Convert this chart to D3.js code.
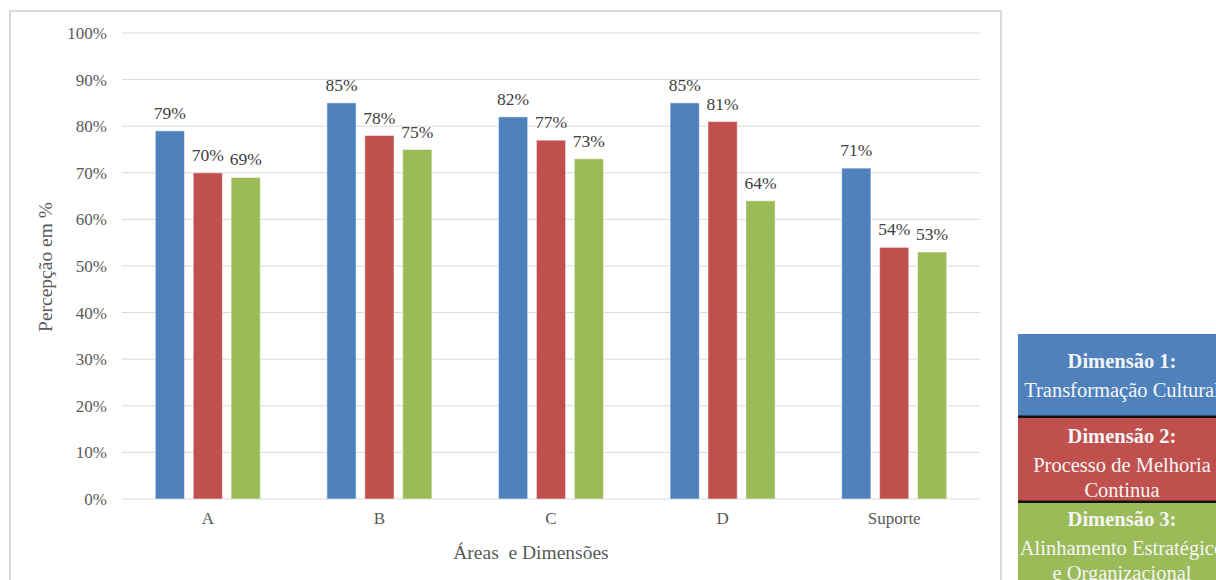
<!DOCTYPE html>
<html>
<head>
<meta charset="utf-8">
<script src="https://cdn.jsdelivr.net/npm/d3@7"></script>
<style>
  html, body { margin: 0; padding: 0; background: #fff; overflow: hidden; }
  svg { display: block; }
  svg text { font-family: "Liberation Serif", "Times New Roman", serif; }
</style>
</head>
<body>
<svg id="chart" width="1216" height="580"></svg>
<script>
// Categories (areas) and the three dimensions
const categories = ["A", "B", "C", "D", "Suporte"];
const seriesNames = ["Dimensão 1", "Dimensão 2", "Dimensão 3"];
const dim1 = [79, 85, 82, 85, 71];
const dim2 = [70, 78, 77, 81, 54];
const dim3 = [69, 75, 73, 64, 53];
const yTicks = [0, 10, 20, 30, 40, 50, 60, 70, 80, 90, 100];
const colors = ["#4F81BD", "#C0504D", "#9BBB59"];

// Legend blocks: bold heading + description lines
const legendHeads = ["Dimensão 1:", "Dimensão 2:", "Dimensão 3:"];
const legendLines = [
  ["Transformação Cultural"],
  ["Processo de Melhoria", "Continua"],
  ["Alinhamento Estratégico", "e Organizacional"]
];

const SERIF = "'Liberation Serif', 'Times New Roman', serif";
const seriesValues = [dim1, dim2, dim3];
const svg = d3.select("#chart");

// Chart frame
svg.append("rect")
  .attr("x", 10).attr("y", 11)
  .attr("width", 991).attr("height", 600)
  .attr("fill", "#fff")
  .attr("stroke", "#d9d9d9").attr("stroke-width", 2);

const plot = { left: 122, right: 980, top: 33, bottom: 499 };

const y = d3.scaleLinear().domain([0, 100]).range([plot.bottom, plot.top]);
const x0 = d3.scaleBand().domain(categories).range([plot.left, plot.right]);
const groupWidth = 105;
const x1 = d3.scaleBand().domain(seriesNames).range([0, groupWidth]).paddingInner(0.23);

// Gridlines
svg.append("g").selectAll("line").data(yTicks).join("line")
  .attr("x1", plot.left).attr("x2", plot.right)
  .attr("y1", d => y(d)).attr("y2", d => y(d))
  .attr("stroke", "#d9d9d9").attr("stroke-width", 1);

// Y axis labels
const yAxis = d3.axisLeft(y).tickValues(yTicks).tickFormat(d => d + "%").tickSize(0).tickPadding(0);
const yg = svg.append("g").attr("transform", `translate(${plot.left - 15},0)`).call(yAxis)
  .attr("font-family", SERIF).attr("font-size", 17);
yg.select(".domain").remove();
yg.selectAll("text").attr("fill", "#595959");

// X axis labels
const xAxis = d3.axisBottom(x0).tickSize(0).tickPadding(0);
const xg = svg.append("g").attr("transform", `translate(0,${plot.bottom + 13})`).call(xAxis)
  .attr("font-family", SERIF).attr("font-size", 17);
xg.select(".domain").remove();
xg.selectAll("text").attr("fill", "#595959");

// Bars
const groups = svg.append("g").selectAll("g").data(categories).join("g")
  .attr("transform", c => `translate(${x0(c) + (x0.bandwidth() - groupWidth) / 2},0)`);

groups.each(function (c, ci) {
  const g = d3.select(this);
  const rows = seriesNames.map((s, si) => ({ s, si, v: seriesValues[si][ci] }));
  g.selectAll("rect").data(rows).join("rect")
    .attr("x", d => x1(d.s))
    .attr("y", d => y(d.v))
    .attr("width", x1.bandwidth())
    .attr("height", d => y(0) - y(d.v))
    .attr("fill", d => colors[d.si])
    .attr("stroke", "#ffffff").attr("stroke-opacity", 0.5).attr("stroke-width", 1);
  g.selectAll("text").data(rows).join("text")
    .attr("x", d => x1(d.s) + x1.bandwidth() / 2)
    .attr("y", d => y(d.v) - 12)
    .attr("text-anchor", "middle")
    .attr("fill", "#404040")
    .attr("font-family", SERIF)
    .attr("font-size", 17.5)
    .text(d => d.v + "%");
});

// Axis titles
svg.append("text")
  .attr("transform", `translate(52,267) rotate(-90)`)
  .attr("text-anchor", "middle")
  .attr("fill", "#595959")
  .attr("font-family", SERIF)
  .attr("font-size", 19.5)
  .text("Percepção em %");

svg.append("text")
  .attr("x", 531)
  .attr("y", 559)
  .attr("text-anchor", "middle")
  .attr("fill", "#595959")
  .attr("font-family", SERIF)
  .attr("font-size", 19.5)
  .style("white-space", "pre")
  .text("Áreas  e Dimensões");

// Legend blocks (text vertically centred in each block)
const legendBoxes = [
  { y0: 334, y1: 415.5, head: 34 },
  { y0: 418, y1: 500.5, head: 25 },
  { y0: 503, y1: 600, head: 23 }
];
const legX = 1018, legW = 208, cx = legX + legW / 2;
svg.append("rect").attr("x", legX).attr("y", 414.5).attr("width", legW).attr("height", 90).attr("fill", "#111");
legendBoxes.forEach((b, i) => {
  svg.append("rect")
    .attr("x", legX).attr("y", b.y0)
    .attr("width", legW).attr("height", b.y1 - b.y0)
    .attr("fill", colors[i]);
  const t = svg.append("text")
    .attr("text-anchor", "middle")
    .attr("fill", "#f5f5f5")
    .attr("font-family", SERIF)
    .attr("font-size", 20.5);
  t.append("tspan").attr("x", cx).attr("y", b.y0 + b.head)
    .attr("font-weight", "bold").text(legendHeads[i]);
  legendLines[i].forEach((line, li) => {
    t.append("tspan").attr("x", cx).attr("y", b.y0 + b.head + 29 + 25 * li)
      .text(line);
  });
});
</script>
</body>
</html>
